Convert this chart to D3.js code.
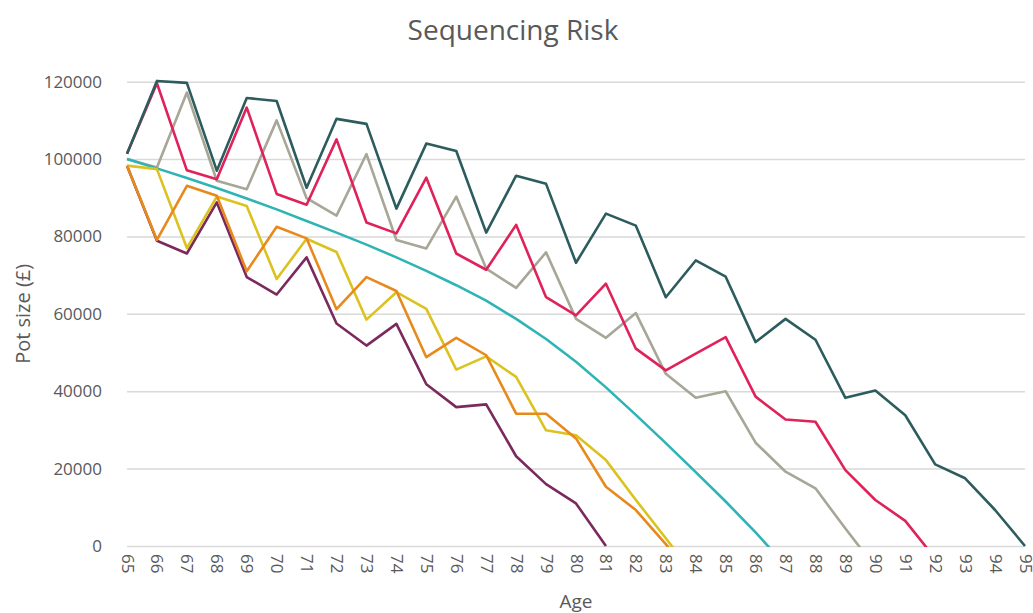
<!DOCTYPE html>
<html>
<head>
<meta charset="utf-8">
<script src="https://cdn.jsdelivr.net/npm/d3@7"></script>
<style>
  body { margin: 0; background: #fff; }
  .chart text { font-family: "Open Sans", sans-serif; fill: #595959; }
  .grid line { stroke: #d9d9d9; stroke-width: 1.5; }
  .series { fill: none; stroke-width: 2.6; stroke-linejoin: round; }
</style>
</head>
<body>
<div class="chart"></div>
<script>
// ages on the x axis
var ages = d3.range(65, 96);

var yTicks = [0, 20000, 40000, 60000, 80000, 100000, 120000];

// pot size per age (last negative values are clipped at 0)
var darkTeal = [101400, 120200, 119700, 97000, 115800, 115000, 92600, 110400, 109100, 87200,
    104000, 102100, 81000, 95700, 93600, 73200, 85900, 82800, 64300, 73800,
    69600, 52700, 58700, 53300, 38300, 40200, 33800, 21100, 17500, 9300, 0];
var crimson = [101400, 119600, 97100, 94800, 113300, 91000, 88200, 105100, 83600, 80800,
    95200, 75600, 71400, 83000, 64300, 59600, 67800, 51000, 45400, 49700,
    54000, 38600, 32700, 32100, 19600, 11900, 6500, -3200];
var gray = [100000, 97800, 117200, 94400, 92200, 110000, 89900, 85400, 101300, 79100,
    76900, 90300, 71700, 66700, 75900, 58700, 53800, 60200, 44500, 38300,
    40000, 26700, 19200, 14900, 4500, -5500];
var cyan = [100000, 97600, 95100, 92500, 89800, 87000, 84000, 81000, 77900, 74600,
    71100, 67400, 63400, 58700, 53500, 47600, 41000, 33900, 26600, 19100,
    11500, 3500, -5000];
var yellow = [98300, 97400, 77000, 90300, 87900, 69000, 79400, 76000, 58500, 65600,
    61300, 45600, 49000, 43700, 29900, 28600, 22200, 11900, 2000, -8000];
var orange = [98300, 79100, 93100, 90500, 71000, 82500, 79500, 61200, 69500, 65900,
    48800, 53800, 49300, 34200, 34200, 27800, 15300, 9300, 500, -9000];
var purple = [98300, 78900, 75600, 88800, 69500, 65000, 74600, 57500, 51800, 57400,
    41800, 35900, 36600, 23200, 16000, 11000, 0];

var seriesList = [
    {name: "gray", values: gray, color: "#a7a697"},
    {name: "cyan", values: cyan, color: "#2fb4b6"},
    {name: "purple", values: purple, color: "#7a2a5d"},
    {name: "yellow", values: yellow, color: "#dcc21f"},
    {name: "orange", values: orange, color: "#e8891c"},
    {name: "crimson", values: crimson, color: "#e0225a"},
    {name: "darkTeal", values: darkTeal, color: "#2c5c5d"}
];

var W = 1033, H = 613;
var margin = {top: 81.7, right: 8, bottom: 67, left: 127};

var svg = d3.select(".chart").append("svg")
    .attr("width", W)
    .attr("height", H);

var x = d3.scalePoint()
    .domain(ages)
    .range([margin.left, W - margin.right]);

var y = d3.scaleLinear()
    .domain([0, 120000])
    .range([H - margin.bottom, margin.top]);

// gridlines + y labels
svg.append("g")
    .attr("class", "grid")
    .attr("transform", "translate(" + margin.left + ",0)")
    .call(d3.axisLeft(y).tickValues(yTicks).tickSize(-(W - margin.right - margin.left)).tickPadding(25).tickFormat(d3.format("d")))
    .call(function (g) {
        g.select(".domain").remove();
        g.selectAll("text").style("font-size", "17px").style("fill", "#595959");
    });

// x labels, rotated
svg.append("g")
    .attr("transform", "translate(0," + (H - margin.bottom) + ")")
    .call(d3.axisBottom(x).tickSize(0).tickPadding(0))
    .call(function (g) {
        g.select(".domain").remove();
        g.selectAll("text")
            .style("font-size", "17px")
            .attr("text-anchor", "start")
            .attr("dy", "0.35em")
            .attr("transform", "translate(0,8) rotate(90)");
    });

svg.append("clipPath")
    .attr("id", "plot-clip")
    .append("rect")
    .attr("x", margin.left - 5)
    .attr("y", margin.top - 10)
    .attr("width", W - margin.left)
    .attr("height", H - margin.bottom - margin.top + 11);

var line = d3.line()
    .x(function (d, i) { return x(ages[i]); })
    .y(function (d) { return y(d); });

svg.append("g")
    .attr("clip-path", "url(#plot-clip)")
    .selectAll("path")
    .data(seriesList)
    .enter().append("path")
    .attr("class", "series")
    .attr("stroke", function (d) { return d.color; })
    .attr("d", function (d) { return line(d.values); });

svg.append("text")
    .attr("x", 513)
    .attr("y", 40)
    .attr("text-anchor", "middle")
    .style("font-size", "28px")
    .text("Sequencing Risk");

svg.append("text")
    .attr("x", (margin.left + W - margin.right) / 2)
    .attr("y", 608)
    .attr("text-anchor", "middle")
    .style("font-size", "19px")
    .text("Age");

svg.append("text")
    .attr("transform", "translate(30," + ((margin.top + H - margin.bottom) / 2) + ") rotate(-90)")
    .attr("text-anchor", "middle")
    .style("font-size", "20px")
    .text("Pot size (£)");
</script>
</body>
</html>
